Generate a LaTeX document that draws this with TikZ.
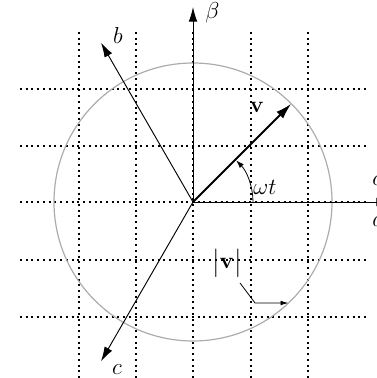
\documentclass[tikz,border=0pt]{standalone}
\usepackage{amsmath,amssymb}
\usepackage{bm}
\usepackage{xcolor}
\usepackage{tikz}
\usetikzlibrary{arrows.meta}

\begin{document}
\begin{tikzpicture}[x=0.75pt,y=0.75pt,
  gridline/.style={line width=1.5pt,dash pattern=on 1.5pt off 2.8pt},
  axis/.style={line width=0.7pt,-{Latex[length=11pt,width=6.5pt]}},
  lbl/.style={font=\fontsize{17}{20}\selectfont,inner sep=0pt}]
\useasboundingbox (-193,-176) rectangle (184,202);
% dotted grid
\foreach \gx in {-114,-57,0,58,115}{
\draw[gridline] (\gx,170) -- (\gx,-180);
}
\foreach \gy in {113,56,0,-58,-115}{
\draw[gridline] (-173,\gy) -- (175,\gy);
}
% circle of radius |v|
\coordinate (O) at (0,0);
\draw[gray!65,line width=0.9pt] (O) circle (139);
% axes alpha, beta and a, b, c
\coordinate (alphaend) at (198,0);
\coordinate (betaend) at (0,195);
\coordinate (bend) at (120:184);
\coordinate (cend) at (240:184);
\draw[axis] (O) -- (alphaend);
\draw[axis] (O) -- (betaend);
\draw[axis] (O) -- (bend);
\draw[axis] (O) -- (cend);
\node[lbl,anchor=west] (betalbl) at (12,189) {$\beta$};
\node[lbl] (blbl) at (-75,166) {$b$};
\node[lbl] (clbl) at (-76,-168) {$c$};
\node[lbl,anchor=west] (alphalbl) at (179,21) {$\alpha$};
\node[lbl,anchor=west] (albl) at (179,-20) {$a$};
% space vector v
\coordinate (vend) at (45:139);
\draw[line width=1.4pt,-{Latex[length=12pt,width=7pt]}] (O) -- (vend);
\node[lbl] (vlbl) at (64,95) {$\mathbf{v}$};
% angle omega t
\draw[line width=0.6pt,-{Latex[length=6pt,width=4pt]}] (60,0) arc[start angle=0,end angle=44,radius=60];
\node[lbl] (wtlbl) at (72,15) {$\omega t$};
% magnitude |v|
\node[lbl] (maglbl) at (34,-61) {$\bigl|\mathbf{v}\bigr|$};
\coordinate (magknee) at (62,-101);
\coordinate (magtip) at (95.5,-101);
\draw[line width=0.6pt,-{Latex[length=6pt,width=3.5pt]}] (47,-81) -- (magknee) -- (magtip);
\end{tikzpicture}
\end{document}
